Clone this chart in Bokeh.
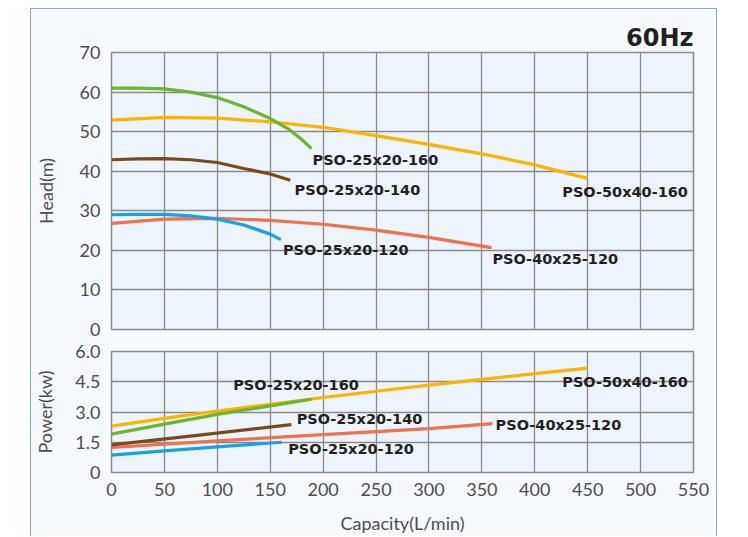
from bokeh.plotting import figure
from bokeh.layouts import column
from bokeh.models import FixedTicker, ColumnDataSource
from bokeh.core.properties import value
from bokeh.embed import file_html
from bokeh.resources import INLINE

# ---------------- data ----------------
x_ticks = [0, 50, 100, 150, 200, 250, 300, 350, 400, 450, 500, 550]
head_ticks = [0, 10, 20, 30, 40, 50, 60, 70]
power_ticks = [0, 1.5, 3.0, 4.5, 6.0]
power_tick_labels = ["0", "1.5", "3.0", "4.5", "6.0"]

# Head curves (capacity L/min, head m)
h160_q = [0, 25, 50, 75, 100, 125, 150, 167, 179, 189]
h160_h = [61.0, 61.0, 60.8, 60.0, 58.6, 56.3, 53.3, 50.7, 48.2, 45.7]
h5040_q = [0, 50, 100, 150, 200, 250, 300, 350, 400, 450]
h5040_h = [52.9, 53.6, 53.4, 52.5, 51.1, 49.0, 46.8, 44.4, 41.6, 38.2]
h140_q = [0, 25, 50, 75, 100, 125, 150, 169]
h140_h = [42.9, 43.1, 43.2, 42.9, 42.2, 40.7, 39.3, 37.7]
h120_q = [0, 25, 50, 75, 100, 125, 150, 160]
h120_h = [29.0, 29.1, 29.1, 28.7, 27.9, 26.4, 24.1, 22.7]
h4025_q = [0, 50, 100, 150, 200, 250, 300, 359]
h4025_h = [26.8, 27.9, 28.1, 27.6, 26.6, 25.1, 23.3, 20.7]

# Power curves (capacity L/min, power kW)
p160_q = [0, 50, 100, 150, 189]
p160_p = [1.9, 2.4, 2.88, 3.3, 3.63]
p5040_q = [0, 50, 100, 150, 200, 250, 300, 350, 400, 450]
p5040_p = [2.3, 2.68, 3.05, 3.38, 3.72, 4.03, 4.33, 4.62, 4.9, 5.18]
p140_q = [0, 85, 170]
p140_p = [1.37, 1.87, 2.37]
p120_q = [0, 50, 100, 161]
p120_p = [0.86, 1.07, 1.27, 1.5]
p4025_q = [0, 100, 200, 300, 360]
p4025_p = [1.24, 1.57, 1.88, 2.18, 2.42]

# Curve labels
head_label_text = ["PSO-25x20-160", "PSO-25x20-140", "PSO-25x20-120", "PSO-40x25-120", "PSO-50x40-160"]
head_label_q = [190, 173, 162, 360, 426]
head_label_h = [42.8, 35.2, 20.0, 17.8, 34.8]
power_label_text = ["PSO-25x20-160", "PSO-25x20-140", "PSO-25x20-120", "PSO-40x25-120", "PSO-50x40-160"]
power_label_q = [115, 175, 167, 363, 426]
power_label_p = [4.35, 2.66, 1.18, 2.37, 4.51]

# ---------------- style ----------------
PANEL = "#f6f9fd"
PLOT_BG = "#edf4fb"
GRID = "#8a8a8a"
TICK_COLOR = "#4d4d4d"
GREEN = "#6cb52d"
YELLOW = "#f9b500"
BROWN = "#7a4a1f"
BLUE = "#17a2e3"
RED = "#f0704f"
TICK_FONT = "Lato"
LABEL_FONT = "DejaVu Sans"


def style(p):
    p.background_fill_color = PLOT_BG
    p.border_fill_color = PANEL
    p.outline_line_color = GRID
    p.outline_line_width = 1.5
    for ax in p.axis:
        ax.axis_line_color = None
        ax.major_tick_line_color = None
        ax.minor_tick_line_color = None
        ax.major_label_text_font = TICK_FONT
        ax.major_label_text_font_size = "18px"
        ax.major_label_text_color = TICK_COLOR
        ax.axis_label_text_font = TICK_FONT
        ax.axis_label_text_font_size = "18px"
        ax.axis_label_text_font_style = "normal"
        ax.axis_label_text_color = TICK_COLOR
        ax.major_label_standoff = 5
    for g in p.grid:
        g.grid_line_color = GRID
        g.grid_line_width = 1.3
    p.xgrid.ticker = FixedTicker(ticks=x_ticks)
    p.xaxis.ticker = FixedTicker(ticks=x_ticks)


# ---------------- head chart ----------------
pA = figure(width=685, height=331, x_range=(0, 550), y_range=(0, 70),
            output_backend="svg", toolbar_location=None,
            min_border_left=79, min_border_right=23,
            min_border_top=43, min_border_bottom=11, title="60Hz")
style(pA)
pA.title.align = "right"
pA.title.text_font = LABEL_FONT
pA.title.text_font_style = "bold"
pA.title.text_font_size = "24px"
pA.title.text_color = "#231f20"
pA.title.standoff = 2
pA.yaxis.ticker = FixedTicker(ticks=head_ticks)
pA.ygrid.ticker = FixedTicker(ticks=head_ticks)
pA.yaxis.axis_label = "Head(m)"
pA.yaxis.axis_label_standoff = 20
pA.xaxis.visible = False

lw = 3.2
pA.line(h5040_q, h5040_h, line_color=YELLOW, line_width=lw)
pA.line(h4025_q, h4025_h, line_color=RED, line_width=lw)
pA.line(h140_q, h140_h, line_color=BROWN, line_width=lw)
pA.line(h120_q, h120_h, line_color=BLUE, line_width=lw)
pA.line(h160_q, h160_h, line_color=GREEN, line_width=lw)

srcA = ColumnDataSource(dict(x=head_label_q, y=head_label_h, t=head_label_text))
pA.text(x="x", y="y", text="t", source=srcA, text_font=value(LABEL_FONT),
        text_font_style="bold", text_font_size="14.5px", text_color="#231f20",
        text_baseline="middle", text_align="left")

# ---------------- power chart ----------------
pB = figure(width=685, height=196, x_range=(0, 550), y_range=(0, 6),
            output_backend="svg", toolbar_location=None,
            min_border_left=79, min_border_right=23,
            min_border_top=11, min_border_bottom=61)
style(pB)
pB.yaxis.ticker = FixedTicker(ticks=power_ticks)
pB.ygrid.ticker = FixedTicker(ticks=power_ticks)
pB.yaxis.major_label_overrides = {t: l for t, l in zip(power_ticks, power_tick_labels)}
pB.yaxis.axis_label = "Power(kw)"
pB.yaxis.axis_label_standoff = 16
pB.xaxis.axis_label = "Capacity(L/min)"
pB.xaxis.axis_label_standoff = 13
pB.xaxis.major_label_standoff = 4

pB.line(p4025_q, p4025_p, line_color=RED, line_width=lw)
pB.line(p120_q, p120_p, line_color=BLUE, line_width=lw)
pB.line(p140_q, p140_p, line_color=BROWN, line_width=lw)
pB.line(p5040_q, p5040_p, line_color=YELLOW, line_width=lw)
pB.line(p160_q, p160_p, line_color=GREEN, line_width=lw)

srcB = ColumnDataSource(dict(x=power_label_q, y=power_label_p, t=power_label_text))
pB.text(x="x", y="y", text="t", source=srcB, text_font=value(LABEL_FONT),
        text_font_style="bold", text_font_size="14.5px", text_color="#231f20",
        text_baseline="middle", text_align="left")

layout = column(pA, pB, spacing=0, margin=(8, 0, 0, 30),
                styles={"border-top": "1px solid #86a8cf",
                        "border-left": "1px solid #86a8cf",
                        "border-right": "1px solid #86a8cf",
                        "background-color": PANEL})

open("out.html", "w").write(file_html(layout, INLINE))
